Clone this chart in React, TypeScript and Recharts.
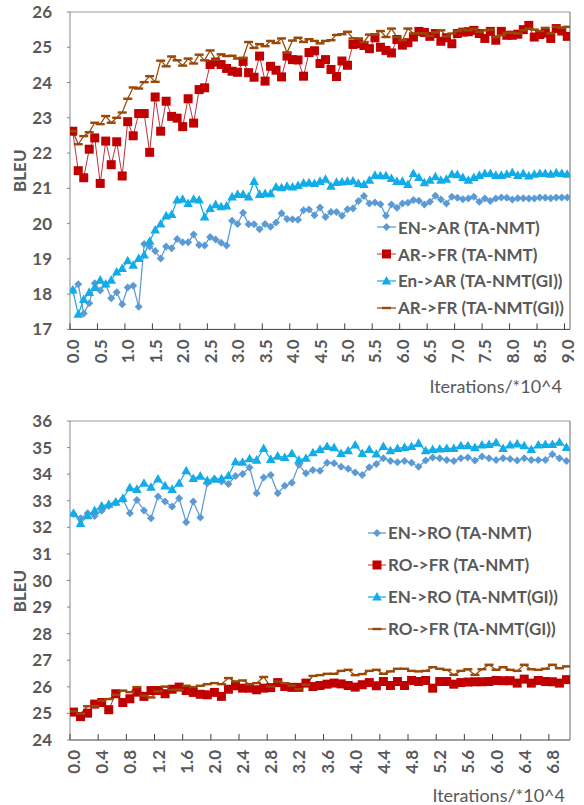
import React from 'react';
import { LineChart, Line, XAxis, YAxis, ReferenceLine, Legend, Label } from 'recharts';

const FONT = "Lato, 'Open Sans', 'DejaVu Sans', sans-serif";
const TEXT = '#595959';

// ---------- TOP CHART DATA ----------
const ITER_TOP = [
  0.0, 0.1, 0.2, 0.3, 0.4, 0.5, 0.6, 0.7, 0.8, 0.9,
  1.0, 1.1, 1.2, 1.3, 1.4, 1.5, 1.6, 1.7, 1.8, 1.9,
  2.0, 2.1, 2.2, 2.3, 2.4, 2.5, 2.6, 2.7, 2.8, 2.9,
  3.0, 3.1, 3.2, 3.3, 3.4, 3.5, 3.6, 3.7, 3.8, 3.9,
  4.0, 4.1, 4.2, 4.3, 4.4, 4.5, 4.6, 4.7, 4.8, 4.9,
  5.0, 5.1, 5.2, 5.3, 5.4, 5.5, 5.6, 5.7, 5.8, 5.9,
  6.0, 6.1, 6.2, 6.3, 6.4, 6.5, 6.6, 6.7, 6.8, 6.9,
  7.0, 7.1, 7.2, 7.3, 7.4, 7.5, 7.6, 7.7, 7.8, 7.9,
  8.0, 8.1, 8.2, 8.3, 8.4, 8.5, 8.6, 8.7, 8.8, 8.9,
  9.0,
];
const TOP_X_TICKS = [0, 0.5, 1, 1.5, 2, 2.5, 3, 3.5, 4, 4.5, 5, 5.5, 6, 6.5, 7, 7.5, 8, 8.5, 9];
const TOP_Y_TICKS = [17, 18, 19, 20, 21, 22, 23, 24, 25, 26];

const EN_AR_TA = [
  18.10, 18.28, 17.45, 17.74, 18.31, 18.10, 18.28, 17.88, 18.05, 17.71,
  18.19, 18.24, 17.64, 19.42, 19.35, 19.22, 19.01, 19.35, 19.30, 19.56,
  19.47, 19.47, 19.69, 19.39, 19.38, 19.62, 19.55, 19.46, 19.38, 20.08,
  19.99, 20.31, 19.98, 19.98, 19.84, 19.99, 19.91, 20.03, 20.29, 20.13,
  20.12, 20.11, 20.38, 20.40, 20.24, 20.46, 20.19, 20.33, 20.33, 20.22,
  20.41, 20.43, 20.64, 20.78, 20.57, 20.60, 20.55, 20.22, 20.54, 20.45,
  20.57, 20.59, 20.67, 20.65, 20.54, 20.62, 20.79, 20.68, 20.57, 20.76,
  20.73, 20.69, 20.71, 20.76, 20.62, 20.71, 20.64, 20.71, 20.74, 20.73,
  20.68, 20.72, 20.72, 20.71, 20.71, 20.74, 20.73, 20.72, 20.74, 20.74,
  20.74,
];
const AR_FR_TA = [
  22.62, 21.50, 21.30, 22.11, 22.43, 21.14, 22.34, 21.67, 22.32, 21.35,
  22.89, 22.49, 23.12, 23.12, 22.02, 23.59, 22.62, 23.47, 23.04, 22.99,
  22.75, 23.54, 22.85, 23.80, 23.85, 24.51, 24.58, 24.51, 24.40, 24.32,
  24.29, 24.60, 24.28, 24.15, 24.75, 24.04, 24.46, 24.35, 24.16, 24.75,
  24.65, 24.64, 24.18, 24.85, 24.90, 24.54, 24.65, 24.37, 24.17, 24.61,
  24.49, 25.08, 25.10, 25.05, 24.96, 25.27, 25.00, 24.91, 24.84, 25.22,
  25.06, 25.13, 25.29, 25.45, 25.42, 25.31, 25.39, 25.17, 25.27, 25.10,
  25.39, 25.43, 25.44, 25.48, 25.39, 25.25, 25.45, 25.20, 25.45, 25.34,
  25.34, 25.37, 25.50, 25.62, 25.29, 25.36, 25.40, 25.25, 25.53, 25.46,
  25.31,
];
const EN_AR_GI = [
  18.12, 17.43, 17.85, 18.05, 18.19, 18.40, 18.29, 18.40, 18.63, 18.73,
  18.95, 18.82, 19.01, 19.11, 19.50, 19.82, 19.99, 20.22, 20.26, 20.67,
  20.69, 20.57, 20.69, 20.67, 20.19, 20.43, 20.54, 20.48, 20.50, 20.76,
  20.83, 20.83, 20.76, 21.20, 20.83, 20.85, 20.85, 21.04, 21.02, 21.06,
  21.04, 21.08, 21.15, 21.16, 21.14, 21.20, 21.26, 21.06, 21.17, 21.18,
  21.20, 21.21, 21.14, 21.11, 21.23, 21.37, 21.36, 21.36, 21.28, 21.20,
  21.20, 21.11, 21.42, 21.31, 21.16, 21.23, 21.33, 21.23, 21.26, 21.40,
  21.39, 21.31, 21.23, 21.31, 21.37, 21.42, 21.42, 21.37, 21.37, 21.40,
  21.45, 21.37, 21.42, 21.35, 21.40, 21.42, 21.42, 21.40, 21.44, 21.42,
  21.40,
];
const AR_FR_GI = [
  22.62, 22.25, 22.48, 22.59, 22.86, 22.82, 23.05, 22.86, 23.00, 23.15,
  23.54, 23.86, 23.83, 24.01, 24.18, 24.02, 24.62, 24.46, 24.74, 24.63,
  24.48, 24.68, 24.54, 24.79, 24.63, 24.91, 24.65, 24.80, 24.75, 24.76,
  24.68, 24.70, 25.15, 24.98, 25.09, 25.03, 25.18, 25.12, 25.25, 24.85,
  25.19, 25.27, 25.15, 25.23, 25.18, 25.11, 25.18, 25.20, 25.35, 25.37,
  25.44, 25.25, 25.25, 25.15, 25.36, 25.36, 25.46, 25.29, 25.53, 25.29,
  25.20, 25.53, 25.39, 25.40, 25.39, 25.32, 25.42, 25.48, 25.31, 25.39,
  25.46, 25.50, 25.48, 25.52, 25.44, 25.48, 25.50, 25.29, 25.34, 25.41,
  25.41, 25.39, 25.48, 25.53, 25.50, 25.46, 25.55, 25.39, 25.58, 25.55,
  25.58,
];

// ---------- BOTTOM CHART DATA ----------
const ITER_BOTTOM = [
  0.0, 0.1, 0.2, 0.3, 0.4, 0.5, 0.6, 0.7, 0.8, 0.9,
  1.0, 1.1, 1.2, 1.3, 1.4, 1.5, 1.6, 1.7, 1.8, 1.9,
  2.0, 2.1, 2.2, 2.3, 2.4, 2.5, 2.6, 2.7, 2.8, 2.9,
  3.0, 3.1, 3.2, 3.3, 3.4, 3.5, 3.6, 3.7, 3.8, 3.9,
  4.0, 4.1, 4.2, 4.3, 4.4, 4.5, 4.6, 4.7, 4.8, 4.9,
  5.0, 5.1, 5.2, 5.3, 5.4, 5.5, 5.6, 5.7, 5.8, 5.9,
  6.0, 6.1, 6.2, 6.3, 6.4, 6.5, 6.6, 6.7, 6.8, 6.9,
  7.0,
];
const BOTTOM_X_TICKS = [0, 0.4, 0.8, 1.2, 1.6, 2.0, 2.4, 2.8, 3.2, 3.6, 4.0, 4.4, 4.8, 5.2, 5.6, 6.0, 6.4, 6.8];
const BOTTOM_Y_TICKS = [24, 25, 26, 27, 28, 29, 30, 31, 32, 33, 34, 35, 36];

const EN_RO_TA = [
  32.50, 32.34, 32.53, 32.43, 32.62, 32.80, 32.93, 33.06, 32.53, 33.03,
  32.63, 32.34, 33.16, 32.97, 32.78, 33.09, 32.19, 32.97, 32.37, 33.66,
  33.82, 33.72, 33.63, 33.93, 34.01, 34.25, 33.28, 33.87, 33.97, 33.28,
  33.56, 33.68, 34.35, 34.03, 34.16, 34.13, 34.43, 34.41, 34.28, 34.20,
  34.06, 33.97, 34.26, 34.38, 34.60, 34.50, 34.45, 34.50, 34.43, 34.28,
  34.51, 34.63, 34.60, 34.53, 34.50, 34.60, 34.63, 34.51, 34.66, 34.60,
  34.53, 34.60, 34.57, 34.51, 34.60, 34.53, 34.53, 34.53, 34.75, 34.60,
  34.50,
];
const RO_FR_TA = [
  25.05, 24.88, 25.01, 25.35, 25.41, 25.14, 25.74, 25.41, 25.55, 25.80,
  25.64, 25.86, 25.86, 25.74, 25.91, 25.99, 25.86, 25.79, 25.72, 25.70,
  25.79, 25.64, 25.91, 26.04, 25.95, 25.95, 25.89, 25.95, 25.97, 26.16,
  26.01, 25.98, 25.98, 26.14, 26.01, 26.05, 26.10, 26.14, 26.11, 26.05,
  25.99, 26.08, 26.16, 26.04, 26.20, 26.05, 26.20, 26.05, 26.24, 26.20,
  26.24, 25.95, 26.20, 26.20, 26.10, 26.16, 26.18, 26.19, 26.19, 26.20,
  26.24, 26.23, 26.23, 26.14, 26.29, 26.14, 26.24, 26.20, 26.19, 26.14,
  26.27,
];
const EN_RO_GI = [
  32.53, 32.15, 32.44, 32.63, 32.80, 32.87, 32.95, 33.09, 33.49, 33.43,
  33.66, 33.51, 33.82, 33.56, 33.43, 33.66, 34.13, 33.84, 33.93, 33.76,
  33.81, 33.83, 33.94, 34.47, 34.45, 34.58, 34.53, 34.97, 34.56, 34.68,
  34.63, 34.78, 34.53, 34.60, 34.81, 34.93, 35.04, 35.00, 34.78, 34.88,
  35.10, 34.78, 34.93, 34.76, 35.04, 34.88, 34.97, 35.01, 35.04, 35.16,
  34.88, 34.93, 34.95, 34.97, 34.97, 35.07, 35.07, 35.00, 35.10, 35.12,
  35.19, 34.97, 35.10, 35.14, 35.07, 34.93, 35.10, 35.12, 35.12, 35.20,
  35.01,
];
const RO_FR_GI = [
  25.08, 24.99, 25.27, 25.27, 25.48, 25.54, 25.70, 25.86, 25.80, 25.99,
  25.67, 25.60, 25.83, 26.01, 25.89, 25.89, 26.04, 25.99, 26.04, 26.10,
  26.14, 26.10, 26.33, 26.20, 26.24, 26.10, 26.14, 26.37, 26.01, 26.20,
  26.14, 26.05, 25.91, 26.08, 26.41, 26.44, 26.49, 26.49, 26.60, 26.64,
  26.44, 26.48, 26.60, 26.64, 26.49, 26.58, 26.68, 26.68, 26.60, 26.58,
  26.60, 26.74, 26.68, 26.64, 26.45, 26.60, 26.66, 26.45, 26.66, 26.83,
  26.64, 26.74, 26.64, 26.60, 26.83, 26.66, 26.64, 26.68, 26.83, 26.70,
  26.77,
];

const topData = ITER_TOP.map((x, i) => ({
  x,
  enArTa: EN_AR_TA[i],
  arFrTa: AR_FR_TA[i],
  enArGi: EN_AR_GI[i],
  arFrGi: AR_FR_GI[i],
}));
const bottomData = ITER_BOTTOM.map((x, i) => ({
  x,
  enRoTa: EN_RO_TA[i],
  roFrTa: RO_FR_TA[i],
  enRoGi: EN_RO_GI[i],
  roFrGi: RO_FR_GI[i],
}));

type MarkerKind = 'diamond' | 'square' | 'triangle' | 'dash';
type SeriesDef = { key: string; name: string; color: string; line: string; width: number; marker: MarkerKind };

const TOP_SERIES: SeriesDef[] = [
  { key: 'enArTa', name: 'EN->AR (TA-NMT)', color: '#5B9BD5', line: '#5B9BD5', width: 1.25, marker: 'diamond' },
  { key: 'arFrTa', name: 'AR->FR (TA-NMT)', color: '#C00000', line: '#C0303A', width: 1, marker: 'square' },
  { key: 'enArGi', name: 'En->AR (TA-NMT(GI))', color: '#12ACE8', line: '#12ACE8', width: 1.25, marker: 'triangle' },
  { key: 'arFrGi', name: 'AR->FR (TA-NMT(GI))', color: '#984807', line: '#984807', width: 1.25, marker: 'dash' },
];
const BOTTOM_SERIES: SeriesDef[] = [
  { key: 'enRoTa', name: 'EN->RO (TA-NMT)', color: '#5B9BD5', line: '#5B9BD5', width: 1.25, marker: 'diamond' },
  { key: 'roFrTa', name: 'RO->FR (TA-NMT)', color: '#C00000', line: '#C0303A', width: 1, marker: 'square' },
  { key: 'enRoGi', name: 'EN->RO (TA-NMT(GI))', color: '#12ACE8', line: '#12ACE8', width: 1.25, marker: 'triangle' },
  { key: 'roFrGi', name: 'RO->FR (TA-NMT(GI))', color: '#984807', line: '#984807', width: 1.25, marker: 'dash' },
];

function Marker({ kind, cx, cy, color }: { kind: MarkerKind; cx: number; cy: number; color: string }) {
  if (kind === 'diamond') {
    return <polygon points={`${cx},${cy - 4} ${cx + 4},${cy} ${cx},${cy + 4} ${cx - 4},${cy}`} fill={color} />;
  }
  if (kind === 'square') {
    return <rect x={cx - 4.5} y={cy - 4.5} width={9} height={9} fill={color} />;
  }
  if (kind === 'triangle') {
    return <polygon points={`${cx},${cy - 5} ${cx + 4.8},${cy + 3.6} ${cx - 4.8},${cy + 3.6}`} fill={color} />;
  }
  return <rect x={cx - 4.5} y={cy - 1.2} width={9} height={2.4} fill={color} />;
}

const makeDot = (s: SeriesDef) => (props: any) => {
  const { cx, cy, index } = props;
  if (cx == null || cy == null) return <g key={`${s.key}-${index}`} />;
  return (
    <g key={`${s.key}-${index}`}>
      <Marker kind={s.marker} cx={cx} cy={cy} color={s.color} />
    </g>
  );
};

const makeXTick = (half: number) => (props: any) => {
  const { x, y, payload } = props;
  return (
    <g>
      <line x1={x - half} x2={x - half} y1={y} y2={y - 6} stroke="#404040" strokeWidth={1} />
      <text
        transform={`translate(${x},${y + 10}) rotate(-90)`}
        textAnchor="end"
        dominantBaseline="central"
        fill={TEXT}
        fontSize={17}
        fontWeight={700}
        fontFamily={FONT}
      >
        {Number(payload.value).toFixed(1)}
      </text>
    </g>
  );
};

const makeLegend = (series: SeriesDef[], rowH: number, lineW: number) => (props: any) => {
  const payload: any[] = [...(props.payload || [])];
  const order = (p: any) => series.findIndex((d) => d.key === p.dataKey);
  payload.sort((a, b) => order(a) - order(b));
  return (
    <div>
      {payload.map((p) => {
        const s = series.find((d) => d.key === p.dataKey) || series[0];
        return (
          <div key={s.key} style={{ display: 'flex', alignItems: 'center', height: rowH, whiteSpace: 'nowrap' }}>
            <svg width={lineW + 1} height={12} style={{ display: 'block' }}>
              <line x1={0} x2={lineW} y1={6} y2={6} stroke={s.line} strokeWidth={s.width} />
              <Marker kind={s.marker} cx={lineW / 2} cy={6} color={s.color} />
            </svg>
            <span style={{ fontFamily: FONT, fontWeight: 700, fontSize: 17, color: TEXT, marginLeft: 1 }}>{p.value}</span>
          </div>
        );
      })}
    </div>
  );
};

const bleuLabel = (dy: number) => (props: any) => {
  const vb = props.viewBox || { x: 0, y: 0, width: 0, height: 0 };
  const cx = vb.x + 9.5;
  const cy = vb.y + vb.height / 2 + dy;
  return (
    <text
      x={cx}
      y={cy}
      transform={`rotate(-90, ${cx}, ${cy})`}
      textAnchor="middle"
      dominantBaseline="central"
      fill={TEXT}
      fontSize={17}
      fontWeight={700}
      fontFamily={FONT}
    >
      BLEU
    </text>
  );
};

const iterLabel = (dx: number, dy: number) => (props: any) => {
  const vb = props.viewBox || { x: 0, y: 0, width: 0, height: 0 };
  return (
    <text x={vb.x + vb.width + dx} y={vb.y + dy} textAnchor="end" fill={TEXT} fontSize={18} fontFamily={FONT}>
      Iterations/*10^4
    </text>
  );
};

type PanelProps = {
  data: any[];
  series: SeriesDef[];
  xTicks: number[];
  xMax: number;
  half: number;
  yDomain: [number, number];
  yTicks: number[];
  height: number;
  margin: { top: number; right: number; bottom: number; left: number };
  legendPos: { left: number; top: number };
  rowH: number;
  lineW: number;
  bleuDy: number;
  iterDx: number;
  iterDy: number;
};

function Panel(p: PanelProps) {
  return (
    <LineChart width={584} height={p.height} data={p.data} margin={p.margin}>
      <XAxis
        dataKey="x"
        type="number"
        domain={[-0.05, p.xMax + 0.05]}
        ticks={p.xTicks}
        interval={0}
        allowDataOverflow
        height={60}
        tickSize={0}
        tickMargin={0}
        tickLine={false}
        axisLine={{ stroke: '#404040', strokeWidth: 1 }}
        tick={makeXTick(p.half)}
      >
        <Label content={iterLabel(p.iterDx, p.iterDy)} />
      </XAxis>
      <YAxis
        type="number"
        domain={p.yDomain}
        ticks={p.yTicks}
        interval={0}
        width={60}
        tickSize={3}
        tickMargin={15}
        axisLine={{ stroke: '#868686', strokeWidth: 1 }}
        tickLine={{ stroke: '#868686', strokeWidth: 1 }}
        tick={{ fill: TEXT, fontSize: 17, fontWeight: 700, fontFamily: FONT }}
      >
        <Label content={bleuLabel(p.bleuDy)} />
      </YAxis>
      <ReferenceLine y={p.yDomain[1]} stroke="#9a9a9a" strokeWidth={1} />
      <ReferenceLine x={p.xMax + 0.05} stroke="#6a6a6a" strokeWidth={1} />
      <Legend
        layout="vertical"
        align="center"
        verticalAlign="middle"
        content={makeLegend(p.series, p.rowH, p.lineW)}
        wrapperStyle={{ position: 'absolute', left: p.legendPos.left, top: p.legendPos.top, width: 200 }}
      />
      {p.series.map((s) => (
        <Line
          key={s.key}
          dataKey={s.key}
          name={s.name}
          stroke={s.line}
          strokeWidth={s.width}
          dot={makeDot(s)}
          activeDot={false}
          isAnimationActive={false}
        />
      ))}
    </LineChart>
  );
}

export default function App() {
  return (
    <div
      style={{
        position: 'absolute',
        left: 0,
        top: 0,
        width: 584,
        height: 805,
        background: '#ffffff',
        fontFamily: FONT,
        overflow: 'hidden',
      }}
    >
      <div style={{ position: 'absolute', left: 0, top: 0 }}>
        <Panel
          data={topData}
          series={TOP_SERIES}
          xTicks={TOP_X_TICKS}
          xMax={9}
          half={500 / 91 / 2}
          yDomain={[17, 26]}
          yTicks={TOP_Y_TICKS}
          height={400}
          margin={{ top: 12, right: 14, bottom: 10.6, left: 10 }}
          legendPos={{ left: 377, top: 214 }}
          rowH={26.8}
          lineW={19}
          bleuDy={0}
          iterDx={-8}
          iterDy={63.5}
        />
      </div>
      <div style={{ position: 'absolute', left: 0, top: 400 }}>
        <Panel
          data={bottomData}
          series={BOTTOM_SERIES}
          xTicks={BOTTOM_X_TICKS}
          xMax={7}
          half={500 / 71 / 2}
          yDomain={[24, 36]}
          yTicks={BOTTOM_Y_TICKS}
          height={405}
          margin={{ top: 21, right: 14, bottom: 5, left: 10 }}
          legendPos={{ left: 368, top: 117 }}
          rowH={31.9}
          lineW={18}
          bleuDy={10.5}
          iterDx={-5}
          iterDy={62}
        />
      </div>
    </div>
  );
}
